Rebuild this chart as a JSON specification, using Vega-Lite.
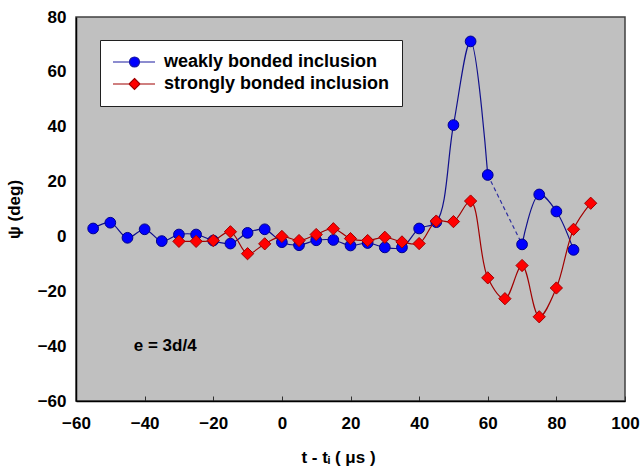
{
  "$schema": "https://vega.github.io/schema/vega-lite/v6.json",
  "width": 549,
  "height": 384,
  "autosize": {"type": "none"},
  "padding": {"left": 76, "top": 17, "right": 18, "bottom": 70},
  "background": "white",
  "config": {
    "font": "Liberation Sans",
    "view": {"fill": "#c0c0c0", "stroke": "#404040", "strokeWidth": 1.5},
    "legend": {
      "orient": "none", "legendX": 24, "legendY": 23,
      "fillColor": "white", "strokeColor": "#202020",
      "padding": 13, "rowPadding": 4,
      "symbolSize": 100, "symbolStrokeWidth": 1.2, "symbolOpacity": 1,
      "labelOffset": 33,
      "labelFont": "Liberation Sans", "labelFontSize": 18, "labelFontWeight": "bold", "labelColor": "black",
      "labelLimit": 0
    }
  },
  "datasets": {
    "pts": [
      {"series": "weakly bonded inclusion", "part": "a", "t": -55, "psi": 2.9},
      {"series": "weakly bonded inclusion", "part": "a", "t": -50, "psi": 5.0},
      {"series": "weakly bonded inclusion", "part": "a", "t": -45, "psi": -0.5},
      {"series": "weakly bonded inclusion", "part": "a", "t": -40, "psi": 2.6},
      {"series": "weakly bonded inclusion", "part": "a", "t": -35, "psi": -1.7},
      {"series": "weakly bonded inclusion", "part": "a", "t": -30, "psi": 0.7},
      {"series": "weakly bonded inclusion", "part": "a", "t": -25, "psi": 0.7},
      {"series": "weakly bonded inclusion", "part": "a", "t": -20, "psi": -1.5},
      {"series": "weakly bonded inclusion", "part": "a", "t": -15, "psi": -2.6},
      {"series": "weakly bonded inclusion", "part": "a", "t": -10, "psi": 1.3},
      {"series": "weakly bonded inclusion", "part": "a", "t": -5, "psi": 2.6},
      {"series": "weakly bonded inclusion", "part": "a", "t": 0, "psi": -2.1},
      {"series": "weakly bonded inclusion", "part": "a", "t": 5, "psi": -3.2},
      {"series": "weakly bonded inclusion", "part": "a", "t": 10, "psi": -1.4},
      {"series": "weakly bonded inclusion", "part": "a", "t": 15, "psi": -1.3},
      {"series": "weakly bonded inclusion", "part": "a", "t": 20, "psi": -3.3},
      {"series": "weakly bonded inclusion", "part": "a", "t": 25, "psi": -2.4},
      {"series": "weakly bonded inclusion", "part": "a", "t": 30, "psi": -4.0},
      {"series": "weakly bonded inclusion", "part": "a", "t": 35, "psi": -4.0},
      {"series": "weakly bonded inclusion", "part": "a", "t": 40, "psi": 2.9},
      {"series": "weakly bonded inclusion", "part": "a", "t": 45, "psi": 5.2},
      {"series": "weakly bonded inclusion", "part": "a", "t": 50, "psi": 40.6},
      {"series": "weakly bonded inclusion", "part": "a", "t": 55, "psi": 71.1},
      {"series": "weakly bonded inclusion", "part": "a", "t": 60, "psi": 22.4},
      {"series": "weakly bonded inclusion", "part": "b", "t": 70, "psi": -2.9},
      {"series": "weakly bonded inclusion", "part": "b", "t": 75, "psi": 15.3},
      {"series": "weakly bonded inclusion", "part": "b", "t": 80, "psi": 9.1},
      {"series": "weakly bonded inclusion", "part": "b", "t": 85, "psi": -4.9},
      {"series": "strongly bonded inclusion", "part": "a", "t": -30, "psi": -1.8},
      {"series": "strongly bonded inclusion", "part": "a", "t": -25, "psi": -1.8},
      {"series": "strongly bonded inclusion", "part": "a", "t": -20, "psi": -1.5},
      {"series": "strongly bonded inclusion", "part": "a", "t": -15, "psi": 1.7},
      {"series": "strongly bonded inclusion", "part": "a", "t": -10, "psi": -6.3},
      {"series": "strongly bonded inclusion", "part": "a", "t": -5, "psi": -2.7},
      {"series": "strongly bonded inclusion", "part": "a", "t": 0, "psi": 0.0},
      {"series": "strongly bonded inclusion", "part": "a", "t": 5, "psi": -1.5},
      {"series": "strongly bonded inclusion", "part": "a", "t": 10, "psi": 0.7},
      {"series": "strongly bonded inclusion", "part": "a", "t": 15, "psi": 2.8},
      {"series": "strongly bonded inclusion", "part": "a", "t": 20, "psi": -0.8},
      {"series": "strongly bonded inclusion", "part": "a", "t": 25, "psi": -1.5},
      {"series": "strongly bonded inclusion", "part": "a", "t": 30, "psi": -0.3},
      {"series": "strongly bonded inclusion", "part": "a", "t": 35, "psi": -2.0},
      {"series": "strongly bonded inclusion", "part": "a", "t": 40, "psi": -2.6},
      {"series": "strongly bonded inclusion", "part": "a", "t": 45, "psi": 5.6},
      {"series": "strongly bonded inclusion", "part": "a", "t": 50, "psi": 5.4},
      {"series": "strongly bonded inclusion", "part": "a", "t": 55, "psi": 12.9},
      {"series": "strongly bonded inclusion", "part": "a", "t": 60, "psi": -15.1},
      {"series": "strongly bonded inclusion", "part": "a", "t": 65, "psi": -22.7},
      {"series": "strongly bonded inclusion", "part": "a", "t": 70, "psi": -10.6},
      {"series": "strongly bonded inclusion", "part": "a", "t": 75, "psi": -29.3},
      {"series": "strongly bonded inclusion", "part": "a", "t": 80, "psi": -18.8},
      {"series": "strongly bonded inclusion", "part": "a", "t": 85, "psi": 2.6},
      {"series": "strongly bonded inclusion", "part": "a", "t": 90, "psi": 12.1}
    ],
    "gap": [
      {"t": 60, "psi": 22.4},
      {"t": 70, "psi": -2.9}
    ],
    "note": [
      {"t": -34, "psi": -40.1, "label": "e = 3d/4"}
    ]
  },
  "encoding": {
    "x": {
      "field": "t", "type": "quantitative",
      "scale": {"domain": [-60, 100], "nice": false, "zero": false},
      "axis": {
        "values": [-60, -40, -20, 0, 20, 40, 60, 80, 100],
        "grid": false,
        "domainColor": "black", "domainWidth": 1.5,
        "tickColor": "#303030", "tickSize": -5, "tickWidth": 1,
        "labelPadding": 19,
        "labelFont": "Liberation Sans", "labelFontSize": 17, "labelFontWeight": "bold", "labelColor": "black",
        "labelFlush": false,
        "title": "t - tᵢ ( μs )",
        "titleFont": "Liberation Sans", "titleFontSize": 17, "titleFontWeight": "bold", "titleColor": "black",
        "titlePadding": 18, "titleX": 262
      }
    },
    "y": {
      "field": "psi", "type": "quantitative",
      "scale": {"domain": [-60, 80], "nice": false, "zero": false},
      "axis": {
        "values": [-60, -40, -20, 0, 20, 40, 60, 80],
        "grid": false, "ticks": false,
        "domainColor": "black", "domainWidth": 1.5,
        "labelPadding": 10,
        "labelFont": "Liberation Sans", "labelFontSize": 17, "labelFontWeight": "bold", "labelColor": "black",
        "labelFlush": false,
        "title": "ψ (deg)",
        "titleFont": "Liberation Sans", "titleFontSize": 17, "titleFontWeight": "bold", "titleColor": "black",
        "titlePadding": 14
      }
    }
  },
  "layer": [
    {
      "mark": {"type": "rule", "color": "#808080", "strokeWidth": 1.5},
      "encoding": {"x": null, "y": {"datum": 0}}
    },
    {
      "mark": {"type": "rule", "color": "#808080", "strokeWidth": 1, "strokeDash": [5, 4]},
      "encoding": {"y": null, "x": {"datum": 0}}
    },
    {
      "data": {"name": "pts"},
      "mark": {"type": "point", "filled": true, "opacity": 0, "strokeWidth": 1.2},
      "encoding": {
        "color": {
          "field": "series", "type": "nominal",
          "scale": {"domain": ["weakly bonded inclusion", "strongly bonded inclusion"], "range": ["#0000ff", "#ff0000"]},
          "legend": {"title": null, "orient": "none", "legendX": 24, "legendY": 23, "labelExpr": "datum.label + '   '"}
        },
        "shape": {
          "field": "series", "type": "nominal",
          "scale": {"domain": ["weakly bonded inclusion", "strongly bonded inclusion"], "range": ["M-1.8,0H1.5M3.5,0H6.6M1.5,0A1,1 0 1,1 3.5,0A1,1 0 1,1 1.5,0Z", "M-1.8,0H1.4M3.6,0H6.6M2.5,-1.1L3.6,0L2.5,1.1L1.4,0Z"]},
          "legend": {"title": null, "orient": "none", "legendX": 24, "legendY": 23, "labelExpr": "datum.label + '   '"}
        },
        "stroke": {
          "field": "series", "type": "nominal",
          "scale": {"domain": ["weakly bonded inclusion", "strongly bonded inclusion"], "range": ["#1a1aa0", "#a00000"]},
          "legend": {"title": null, "orient": "none", "legendX": 24, "legendY": 23, "labelExpr": "datum.label + '   '"}
        }
      }
    },
    {
      "data": {"name": "gap"},
      "mark": {"type": "line", "color": "#3030a0", "strokeWidth": 1.2, "strokeDash": [4, 3]},
      "encoding": {}
    },
    {
      "data": {"name": "pts"},
      "transform": [{"filter": "datum.series === 'weakly bonded inclusion'"}],
      "mark": {"type": "line", "color": "#10108c", "strokeWidth": 1.2, "interpolate": "catmull-rom"},
      "encoding": {"detail": {"field": "part"}}
    },
    {
      "data": {"name": "pts"},
      "transform": [{"filter": "datum.series === 'weakly bonded inclusion'"}],
      "mark": {"type": "point", "shape": "circle", "filled": true, "size": 115, "fill": "#0000ff", "stroke": "#00008b", "strokeWidth": 1, "opacity": 1},
      "encoding": {}
    },
    {
      "data": {"name": "pts"},
      "transform": [{"filter": "datum.series === 'strongly bonded inclusion'"}],
      "mark": {"type": "line", "color": "#a00000", "strokeWidth": 1.2, "interpolate": "catmull-rom"},
      "encoding": {}
    },
    {
      "data": {"name": "pts"},
      "transform": [{"filter": "datum.series === 'strongly bonded inclusion'"}],
      "mark": {"type": "point", "shape": "diamond", "filled": true, "size": 150, "fill": "#ff0000", "stroke": "#a00000", "strokeWidth": 1, "opacity": 1},
      "encoding": {}
    },
    {
      "data": {"name": "note"},
      "mark": {"type": "text", "font": "Liberation Sans", "fontSize": 17, "fontWeight": "bold", "color": "black"},
      "encoding": {"text": {"field": "label", "type": "nominal"}}
    }
  ]
}
